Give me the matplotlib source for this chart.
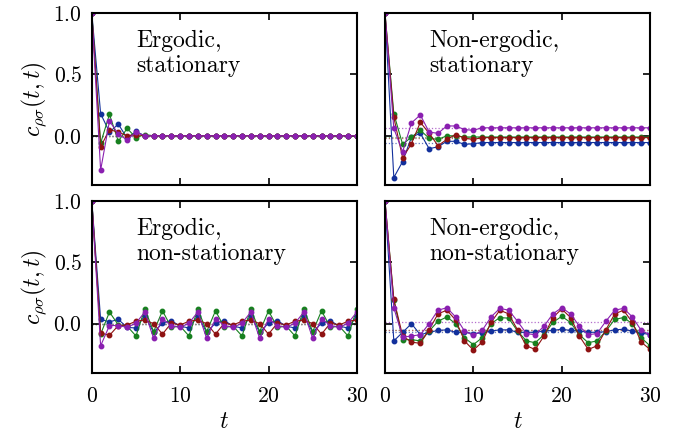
import numpy as np
import matplotlib
matplotlib.use("Agg")
import matplotlib.pyplot as plt
from matplotlib.colors import to_rgb

plt.rcParams["font.family"] = "serif"
plt.rcParams["font.serif"] = ["cmr10"]
plt.rcParams["mathtext.fontset"] = "cm"
plt.rcParams["axes.formatter.use_mathtext"] = True

t = np.arange(31)

# ergodic, stationary
es_blue = [1.0, 0.18, 0.03, 0.095, -0.02, 0.035, 0.0, 0.0, 0.0, 0.0, 0.0, 0.0, 0.0, 0.0, 0.0, 0.0,
           0.0, 0.0, 0.0, 0.0, 0.0, 0.0, 0.0, 0.0, 0.0, 0.0, 0.0, 0.0, 0.0, 0.0, 0.0]
es_green = [1.0, -0.06, 0.175, -0.045, 0.06, -0.015, 0.01, 0.0, 0.0, 0.0, 0.0, 0.0, 0.0, 0.0, 0.0, 0.0,
            0.0, 0.0, 0.0, 0.0, 0.0, 0.0, 0.0, 0.0, 0.0, 0.0, 0.0, 0.0, 0.0, 0.0, 0.0]
es_red = [1.0, -0.09, 0.05, 0.03, 0.0, 0.01, 0.0, 0.0, 0.0, 0.0, 0.0, 0.0, 0.0, 0.0, 0.0, 0.0,
          0.0, 0.0, 0.0, 0.0, 0.0, 0.0, 0.0, 0.0, 0.0, 0.0, 0.0, 0.0, 0.0, 0.0, 0.0]
es_purple = [1.0, -0.28, 0.12, 0.015, -0.035, 0.03, 0.0, 0.0, 0.0, 0.0, 0.0, 0.0, 0.0, 0.0, 0.0, 0.0,
             0.0, 0.0, 0.0, 0.0, 0.0, 0.0, 0.0, 0.0, 0.0, 0.0, 0.0, 0.0, 0.0, 0.0, 0.0]
es_means = [0.0, 0.0, 0.0, 0.0]

# non-ergodic, stationary
ns_blue = [1.0, -0.34, -0.21, -0.01, 0.02, -0.105, -0.09, -0.045, -0.045, -0.07, -0.065, -0.055,
           -0.055, -0.055, -0.055, -0.055, -0.055, -0.055, -0.055, -0.055, -0.055, -0.055, -0.055,
           -0.055, -0.055, -0.055, -0.055, -0.055, -0.055, -0.055, -0.055]
ns_green = [1.0, 0.18, -0.07, -0.01, 0.045, -0.02, -0.03, 0.0, 0.0, -0.01, -0.01, -0.01, -0.01,
            -0.01, -0.01, -0.01, -0.01, -0.01, -0.01, -0.01, -0.01, -0.01, -0.01, -0.01, -0.01,
            -0.01, -0.01, -0.01, -0.01, -0.01, -0.01]
ns_red = [1.0, 0.15, -0.18, -0.065, 0.11, 0.02, -0.08, -0.03, 0.01, -0.02, -0.03, -0.015, -0.015,
          -0.015, -0.015, -0.015, -0.015, -0.015, -0.015, -0.015, -0.015, -0.015, -0.015, -0.015,
          -0.015, -0.015, -0.015, -0.015, -0.015, -0.015, -0.015]
ns_purple = [1.0, 0.06, -0.13, 0.105, 0.17, 0.03, 0.02, 0.08, 0.08, 0.05, 0.045, 0.065, 0.065,
             0.065, 0.065, 0.065, 0.065, 0.065, 0.065, 0.065, 0.065, 0.065, 0.065, 0.065, 0.065,
             0.065, 0.065, 0.065, 0.065, 0.065, 0.065]
ns_means = [-0.055, -0.01, -0.015, 0.062]

# ergodic, non-stationary
en_blue = [1.0, 0.035, 0.015, 0.035, -0.03, -0.035, 0.065, -0.07, 0.005, 0.025, -0.02, -0.035,
           0.065, -0.07, 0.005, 0.025, -0.02, -0.035, 0.065, -0.07, 0.005, 0.025, -0.02, -0.035,
           0.065, -0.07, 0.005, 0.025, -0.02, -0.035, 0.065]
en_green = [1.0, -0.085, 0.095, -0.01, -0.02, -0.10, 0.12, -0.065, 0.105, -0.03, -0.02, -0.10,
            0.12, -0.065, 0.105, -0.03, -0.02, -0.10, 0.12, -0.065, 0.105, -0.03, -0.02, -0.10,
            0.12, -0.065, 0.105, -0.03, -0.02, -0.10, 0.12]
en_red = [1.0, -0.075, -0.095, -0.015, -0.01, 0.02, 0.03, 0.0, -0.085, 0.005, -0.01, 0.02,
          0.03, 0.0, -0.085, 0.005, -0.01, 0.02, 0.03, 0.0, -0.085, 0.005, -0.01, 0.02,
          0.03, 0.0, -0.085, 0.005, -0.01, 0.02, 0.03]
en_purple = [1.0, -0.18, -0.015, -0.015, -0.03, 0.005, 0.095, -0.12, 0.04, -0.015, -0.03, 0.005,
             0.095, -0.12, 0.04, -0.015, -0.03, 0.005, 0.095, -0.12, 0.04, -0.015, -0.03, 0.005,
             0.095, -0.12, 0.04, -0.015, -0.03, 0.005, 0.095]
en_means = [0.0, 0.0, 0.0, 0.0]

# non-ergodic, non-stationary
nn_blue = [1.0, -0.14, -0.07, 0.0, -0.09, -0.07, -0.055, -0.05, -0.07, -0.07, -0.08, -0.075, -0.06,
           -0.05, -0.05, -0.07, -0.07, -0.07, -0.06, -0.055, -0.045, -0.055, -0.06, -0.07, -0.07,
           -0.065, -0.05, -0.045, -0.06, -0.075, -0.09]
nn_green = [1.0, 0.19, -0.13, -0.13, -0.14, -0.06, 0.02, 0.055, 0.0, -0.115, -0.17, -0.115, 0.0,
            0.05, 0.045, -0.06, -0.14, -0.155, -0.09, 0.01, 0.06, 0.01, -0.09, -0.155, -0.14,
            -0.06, 0.035, 0.05, 0.0, -0.115, -0.18]
nn_red = [1.0, 0.20, -0.10, -0.15, -0.16, -0.05, 0.08, 0.11, 0.03, -0.14, -0.215, -0.15, 0.01,
          0.11, 0.08, -0.05, -0.18, -0.21, -0.10, 0.05, 0.12, 0.05, -0.10, -0.21, -0.18, -0.05,
          0.08, 0.11, 0.01, -0.15, -0.21]
nn_purple = [1.0, 0.13, -0.11, -0.10, -0.09, 0.0, 0.11, 0.13, 0.055, -0.06, -0.095, -0.055, 0.055,
             0.125, 0.11, 0.02, -0.08, -0.09, -0.02, 0.08, 0.13, 0.08, -0.02, -0.09, -0.08, 0.02,
             0.11, 0.125, 0.055, -0.055, -0.09]
nn_means = [-0.065, -0.05, -0.05, 0.01]

colors = ["#12309c", "#17801f", "#8e1212", "#8a1fb0"]

panels = [
    ("Ergodic,\nstationary", [es_blue, es_green, es_red, es_purple], es_means),
    ("Non-ergodic,\nstationary", [ns_blue, ns_green, ns_red, ns_purple], ns_means),
    ("Ergodic,\nnon-stationary", [en_blue, en_green, en_red, en_purple], en_means),
    ("Non-ergodic,\nnon-stationary", [nn_blue, nn_green, nn_red, nn_purple], nn_means),
]


def lighten(c, f=0.35):
    r, g, b = to_rgb(c)
    return (r + (1 - r) * f, g + (1 - g) * f, b + (1 - b) * f)


fig = plt.figure(figsize=(6.85, 4.34), dpi=100)
lefts = [0.134, 0.562]
bottoms = [0.574, 0.141]
w, h = 0.387, 0.396

for i, (title, series, means) in enumerate(panels):
    row, col = divmod(i, 2)
    ax = fig.add_axes([lefts[col], bottoms[row], w, h])
    for m, c in zip(means, colors):
        ax.axhline(m, color=lighten(c) if m != 0 else "0.55", ls=":", lw=0.9, zorder=1)
    for vals, c in zip(series, colors):
        ax.plot(t, vals, "-o", color=c, lw=0.8, ms=3.2, zorder=2)
    ax.set_xlim(0, 30)
    ax.set_ylim(-0.4, 1.0)
    ax.set_xticks([0, 10, 20, 30])
    ax.set_yticks([0.0, 0.5, 1.0])
    ax.tick_params(direction="in", top=True, right=True, length=5, width=1.2,
                   labelsize=15.5, pad=7)
    ax.tick_params(axis="x", pad=10)
    for s in ax.spines.values():
        s.set_linewidth(1.5)
    ax.text(0.167, 0.9, title, transform=ax.transAxes, ha="left", va="top",
            fontsize=17, linespacing=1.15)
    if col == 0:
        ax.set_ylabel(r"$c_{\rho\sigma}(t,t)$", fontsize=17, labelpad=4)
    else:
        ax.set_yticklabels([])
    if row == 0:
        ax.set_xticklabels([])
    else:
        ax.set_xlabel(r"$t$", fontsize=17, labelpad=3)

fig.savefig("out.png", dpi=100)
